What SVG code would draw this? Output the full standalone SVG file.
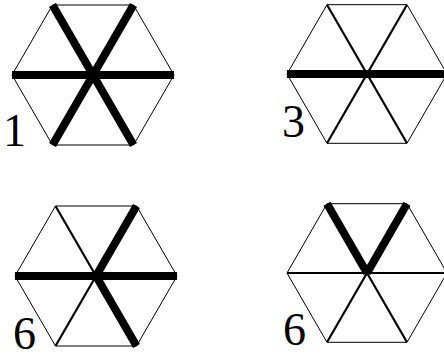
<svg xmlns="http://www.w3.org/2000/svg" width="444" height="354" viewBox="0 0 444 354">
<style>
.hex{fill:none;stroke:#000;stroke-width:1}
.thick{stroke:#000;stroke-width:8;stroke-linecap:butt}
.med{stroke:#000;stroke-width:2.2}
.lbl{font-family:"Liberation Serif",serif;font-size:46px;fill:#000}
</style>
<rect width="444" height="354" fill="#fff"/>
<g id="hex1">
<polygon class="hex" points="174,75 133.5,5 52.5,5 12,75 52.5,145 133.5,145"/>
<line class="thick" x1="12" y1="75" x2="174" y2="75"/>
<line class="thick" x1="52.5" y1="5" x2="133.5" y2="145"/>
<line class="thick" x1="133.5" y1="5" x2="52.5" y2="145"/>
<text class="lbl" x="3" y="146">1</text>
</g>
<g id="hex2">
<polygon class="hex" points="447,74 407,4.7 327,4.7 287,74 327,143.3 407,143.3"/>
<line class="med" x1="327" y1="4.7" x2="407" y2="143.3"/>
<line class="med" x1="407" y1="4.7" x2="327" y2="143.3"/>
<line class="thick" x1="287" y1="74" x2="447" y2="74"/>
<text class="lbl" x="282" y="136.5">3</text>
</g>
<g id="hex3">
<polygon class="hex" points="177,276 136.5,206 55.5,206 15,276 55.5,346 136.5,346"/>
<line class="med" x1="55.5" y1="206" x2="96" y2="276"/>
<line class="med" x1="55.5" y1="346" x2="96" y2="276"/>
<line class="thick" x1="15" y1="276" x2="177" y2="276"/>
<line class="thick" x1="136.5" y1="206" x2="96" y2="276"/>
<line class="thick" x1="136.5" y1="346" x2="96" y2="276"/>
<text class="lbl" x="13" y="349">6</text>
</g>
<g id="hex4">
<polygon class="hex" points="447,273 407,203.7 327,203.7 287,273 327,342.3 407,342.3"/>
<line class="med" x1="287" y1="273" x2="447" y2="273"/>
<line class="med" x1="327" y1="342.3" x2="367" y2="273"/>
<line class="med" x1="407" y1="342.3" x2="367" y2="273"/>
<line class="thick" x1="327" y1="203.7" x2="367" y2="273"/>
<line class="thick" x1="407" y1="203.7" x2="367" y2="273"/>
<text class="lbl" x="283" y="344.5">6</text>
</g>
</svg>
